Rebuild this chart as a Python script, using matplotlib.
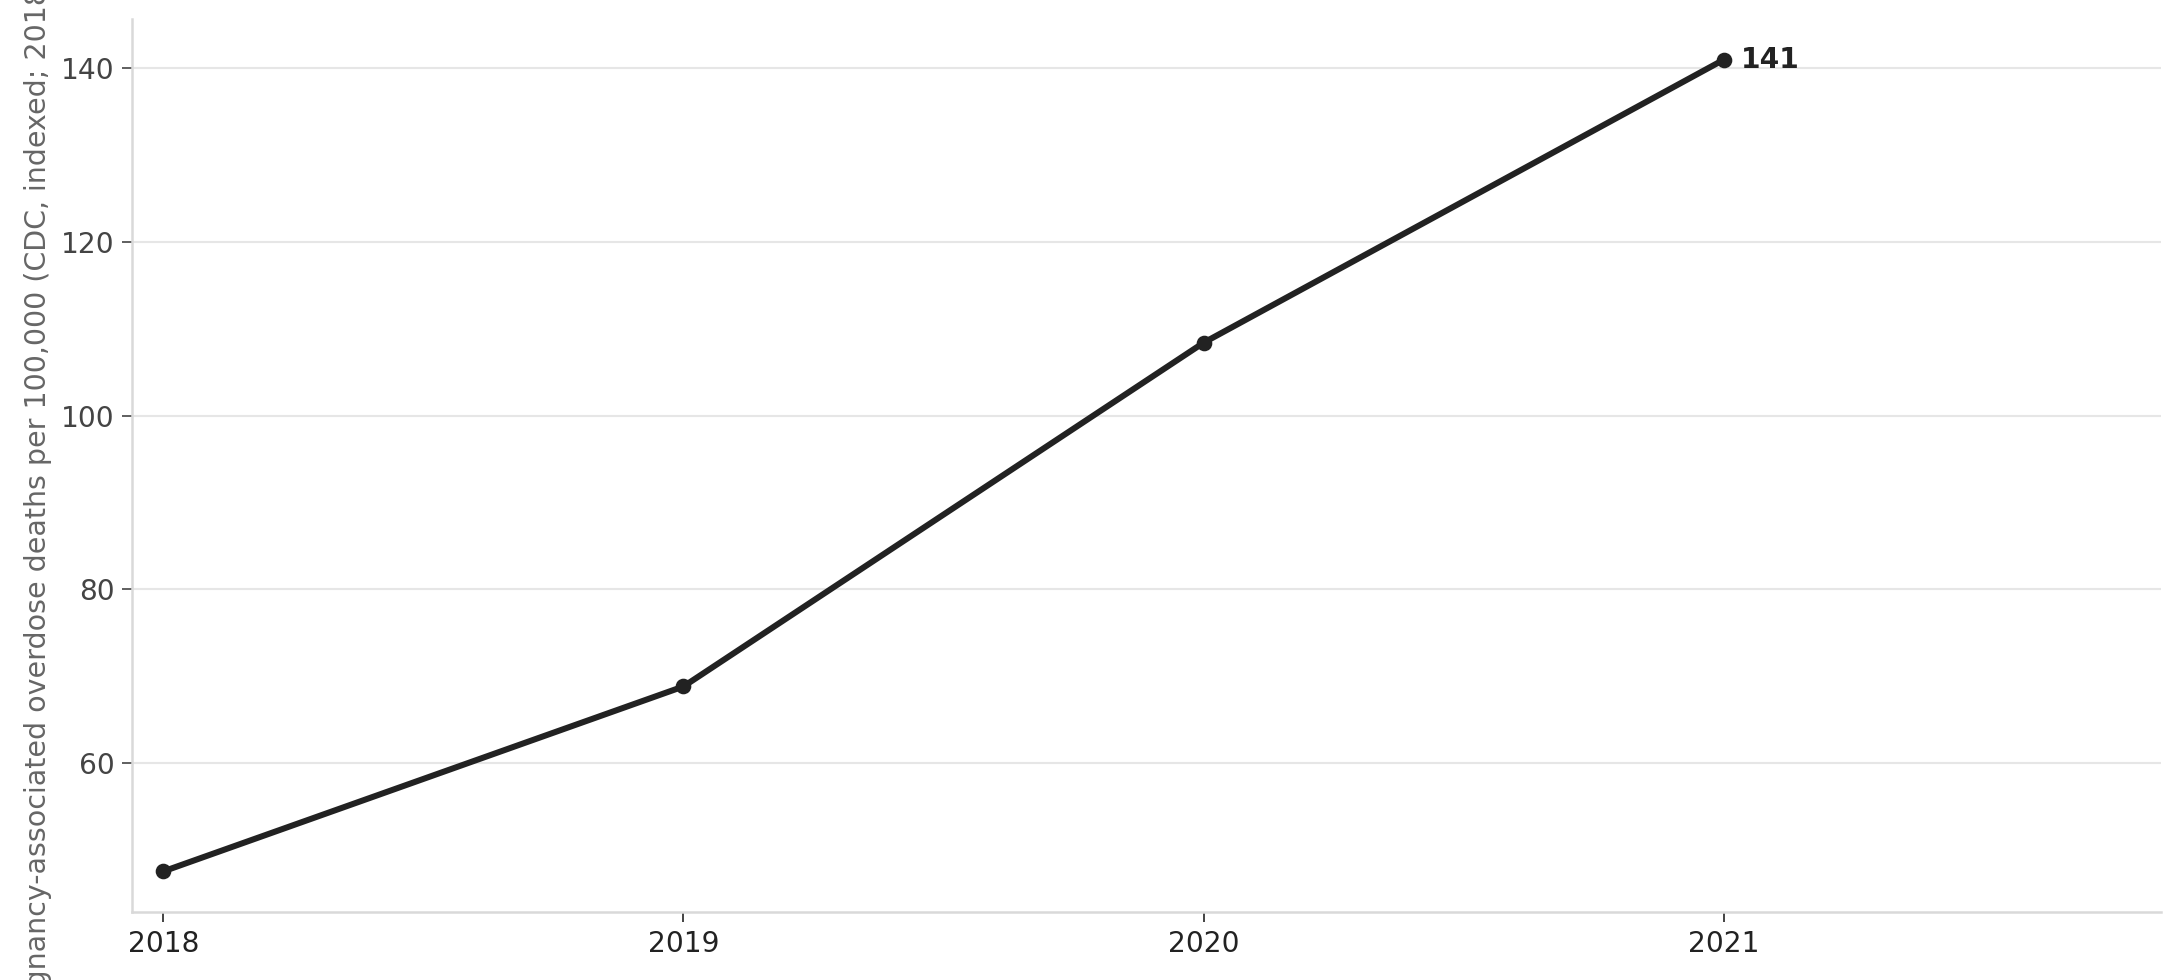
import matplotlib
matplotlib.use("Agg")
import matplotlib.pyplot as plt

years = [2018, 2019, 2020, 2021]
values = [47.5, 68.8, 108.4, 141.0]  # indexed, 2018 = 100 base
ylabel = "Pregnancy-associated overdose deaths per 100,000 (CDC, indexed; 2018=100)"

fig = plt.figure(figsize=(2179 / 150, 980 / 150), dpi=150)
ax = fig.add_axes([132 / 2179, 1 - 912 / 980, (2161 - 132) / 2179, (912 - 19) / 980])

ax.plot(years, values, color="#222222", lw=2.9, marker="o", ms=6.5, zorder=3)
ax.annotate(f"{values[-1]:.0f}", (years[-1], values[-1]), xytext=(8, 0),
            textcoords="offset points", va="center", ha="left",
            fontsize=13.5, fontweight="bold", color="#222222")

ax.set_xticks(years)
ax.set_xticklabels([str(y) for y in years])
ax.set_xlim(2017.94, 2021.84)
ax.set_yticks([60, 80, 100, 120, 140])
ax.margins(y=0.05)

ax.grid(axis="y", color="#e6e6e6", lw=1)
ax.set_axisbelow(True)
for s in ["top", "right"]:
    ax.spines[s].set_visible(False)
for s in ["left", "bottom"]:
    ax.spines[s].set_color("#d9d9d9")
    ax.spines[s].set_linewidth(1.2)
ax.tick_params(axis="y", colors="#444444", labelsize=13.5, length=5)
ax.tick_params(axis="x", colors="#222222", labelsize=13.5, length=5)
ax.set_ylabel(ylabel, fontsize=13.7, color="#666666")

fig.savefig("out.png", dpi=150)
